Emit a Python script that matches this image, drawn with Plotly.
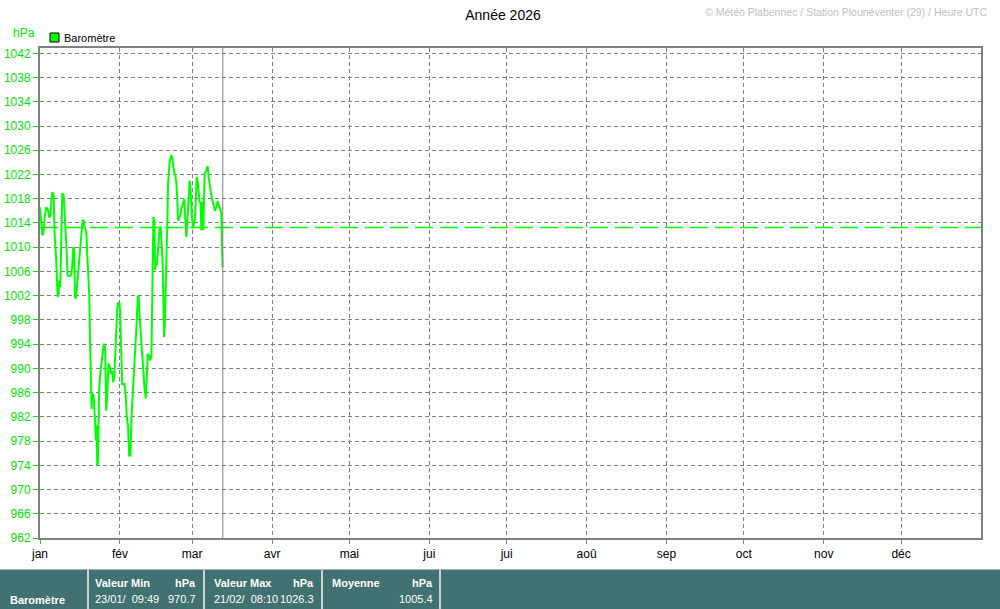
import plotly.graph_objects as go
import pandas as pd

# ---------------- data ----------------
YEAR_START = "2026-01-01"
YEAR_END = "2027-01-01"

# days elapsed since 1 Jan 2026 (fractional)
days = [0.0, 0.26, 0.90, 1.29, 1.81, 2.45, 3.10, 3.61, 4.00, 4.39, 4.77, 5.29, 5.68,
        6.19, 6.58, 6.84, 7.22, 7.48, 7.87, 8.26, 8.64, 9.16, 9.55, 9.93, 10.32,
        10.71, 11.48, 12.13, 12.51, 12.90, 13.29, 13.55, 13.93, 14.32, 14.71, 15.22,
        15.74, 16.13, 16.51, 16.90, 17.29, 17.80, 18.06, 18.32, 18.71, 19.09, 19.35,
        19.74, 20.00, 20.25, 20.77, 21.28, 21.67, 21.93, 22.19, 22.45, 22.70, 22.96,
        23.48, 23.86, 24.38, 24.77, 25.28, 25.67, 26.06, 26.57, 27.09, 27.61, 27.99,
        28.38, 28.77, 29.15, 29.54, 29.93, 30.31, 30.83, 31.09, 31.35, 31.86, 32.77,
        33.28, 33.67, 34.18, 34.57, 35.09, 35.48, 35.86, 36.38, 36.76, 37.28, 37.54,
        37.93, 38.31, 38.57, 38.96, 39.34, 39.73, 40.12, 40.51, 41.02, 41.41, 41.80,
        42.31, 42.70, 43.21, 43.47, 43.73, 43.99, 44.38, 44.63, 44.89, 45.28, 45.67,
        46.05, 46.44, 46.83, 47.21, 47.60, 47.86, 48.12, 48.37, 48.63, 48.89, 49.15,
        49.41, 49.67, 49.92, 50.31, 50.70, 50.96, 51.34, 51.73, 52.12, 52.50, 52.89,
        53.28, 53.53, 53.92, 54.44, 54.95, 55.60, 55.99, 56.37, 56.76, 57.02, 57.28,
        57.66, 58.05, 58.31, 58.57, 58.95, 59.34, 59.73, 60.11, 60.50, 60.76, 61.15,
        61.53, 61.92, 62.31, 62.57, 62.82, 63.08, 63.34, 63.60, 63.86, 64.24, 64.63,
        65.02, 65.40, 65.79, 66.31, 66.82, 67.34, 67.85, 68.37, 68.89, 69.40, 69.92,
        70.30, 70.56, 70.82]

pressure = [1016.6, 1015.0, 1012.0, 1012.2, 1015.0, 1016.6, 1016.1, 1014.9, 1015.3,
            1017.5, 1019.1, 1018.6, 1012.0, 1008.7, 1005.1, 1001.8, 1002.1, 1004.5,
            1003.4, 1012.2, 1018.9, 1018.6, 1016.1, 1012.0, 1009.5, 1005.4, 1005.2,
            1005.4, 1007.0, 1010.0, 1009.8, 1001.8, 1001.5, 1003.4, 1005.6, 1008.4,
            1011.7, 1013.1, 1014.4, 1014.4, 1013.3, 1012.8, 1011.7, 1008.9, 1005.6,
            1002.3, 995.7, 989.6, 983.3, 985.8, 985.5, 982.0, 978.1, 980.6, 974.0,
            974.2, 980.6, 986.9, 989.6, 990.8, 993.0, 994.1, 993.5, 983.0, 985.2,
            990.8, 990.2, 989.1, 989.6, 987.7, 988.3, 992.4, 997.9, 999.6, 1000.9,
            1000.7, 999.3, 994.6, 987.4, 987.4, 985.2, 982.0, 980.3, 975.6, 975.6,
            982.0, 984.7, 988.0, 991.0, 994.1, 997.9, 1002.0, 1001.8, 999.0, 996.3,
            993.2, 990.8, 988.3, 986.9, 985.0, 989.1, 992.4, 992.1, 991.3, 991.9,
            999.0, 1007.0, 1015.0, 1014.4, 1006.2, 1007.8, 1007.0, 1008.9, 1010.6,
            1013.3, 1013.3, 1009.5, 1007.0, 1001.2, 995.2, 996.8, 1000.7, 1002.9,
            1007.0, 1014.4, 1020.5, 1022.7, 1024.1, 1024.9, 1025.2, 1024.6, 1023.3,
            1022.2, 1021.9, 1020.5, 1017.8, 1014.4, 1014.7, 1015.3, 1016.6, 1017.5,
            1018.0, 1014.4, 1011.7, 1013.3, 1015.0, 1018.3, 1021.0, 1020.0, 1017.5,
            1015.0, 1013.1, 1014.2, 1014.7, 1018.6, 1021.6, 1020.8, 1019.4, 1017.5,
            1017.2, 1012.8, 1017.5, 1016.1, 1012.8, 1019.4, 1022.2, 1022.4, 1023.0,
            1023.4, 1021.6, 1020.0, 1018.9, 1017.8, 1016.9, 1016.0, 1016.6, 1017.6,
            1016.9, 1016.4, 1015.8, 1011.1, 1006.7]

month_starts = ["2026-01-01", "2026-02-01", "2026-03-01", "2026-04-01", "2026-05-01",
                "2026-06-01", "2026-07-01", "2026-08-01", "2026-09-01", "2026-10-01",
                "2026-11-01", "2026-12-01"]
month_labels = ["jan", "fév", "mar", "avr", "mai", "jui", "jui", "aoû", "sep", "oct",
                "nov", "déc"]
y_ticks = list(range(962, 1043, 4))
Y_RANGE = [962, 1042.88]

REF_PRESSURE = 1013.25     # standard atmosphere reference line
NOW_DAY = 70.9             # current-time marker

stat_labels = ["Valeur Min", "Valeur Max", "Moyenne"]
stat_dates = ["23/01/  09:49", "21/02/  08:10", ""]
stat_values = ["970.7", "1026.3", "1005.4"]

TITLE = "Année 2026"
CREDIT = "© Météo Plabennec / Station Plounéventer (29) / Heure UTC"
SERIES = "Baromètre"
UNIT = "hPa"

# ---------------- style ----------------
GREEN = "#00ff00"
GREEN_TXT = "#00e800"
GRID = "#808080"
TEAL = "#417171"
FONT = "Liberation Sans"

W, H = 1000, 609
L, R, T, B = 40, 981, 48, 538   # plot area in pixels


def px(x):
    return (x - L) / (R - L)


def py(y):
    return (B - y) / (B - T)


t0 = pd.Timestamp(YEAR_START)
times = t0 + pd.to_timedelta(days, unit="D")
now_t = t0 + pd.to_timedelta(NOW_DAY, unit="D")

fig = go.Figure()
fig.add_trace(go.Scatter(x=[t0, pd.Timestamp(YEAR_END)], y=[REF_PRESSURE, REF_PRESSURE],
                         mode="lines", line=dict(color=GREEN, width=1.5, dash="18px,7px"),
                         hoverinfo="skip", showlegend=False))
fig.add_trace(go.Scatter(x=times, y=pressure, mode="lines", name=SERIES,
                         line=dict(color=GREEN, width=2), showlegend=False))

shapes = []
# current time marker
shapes.append(dict(type="line", xref="x", yref="paper", x0=now_t, x1=now_t, y0=0, y1=1,
                   line=dict(color=GRID, width=1)))
# legend square
shapes.append(dict(type="rect", xref="paper", yref="paper", x0=px(50), x1=px(59),
                   y0=py(42), y1=py(33), fillcolor=GREEN, line=dict(color="black", width=1)))
# footer
shapes.append(dict(type="rect", xref="paper", yref="paper", x0=px(0), x1=px(1000),
                   y0=py(609), y1=py(569.5), fillcolor=TEAL, line=dict(width=0), layer="below"))
for sx in [88, 204, 322, 440]:
    shapes.append(dict(type="line", xref="paper", yref="paper", x0=px(sx), x1=px(sx),
                       y0=py(609), y1=py(570), line=dict(color="#c8d4d4", width=2)))

ann = []
ann.append(dict(text=CREDIT, x=px(989), y=py(12), xref="paper", yref="paper",
                xanchor="right", yanchor="middle", showarrow=False,
                font=dict(family=FONT, size=10.5, color="#c0c0c0")))
ann.append(dict(text=SERIES, x=px(62), y=py(38), xref="paper", yref="paper",
                xanchor="left", yanchor="middle", showarrow=False,
                font=dict(family=FONT, size=11, color="black")))
ann.append(dict(text=UNIT, x=px(11), y=py(33), xref="paper", yref="paper",
                xanchor="left", yanchor="middle", showarrow=False,
                font=dict(family=FONT, size=12, color=GREEN_TXT)))
ann.append(dict(text="<b>" + SERIES + "</b>", x=px(8), y=py(600), xref="paper", yref="paper",
                xanchor="left", yanchor="middle", showarrow=False,
                font=dict(family=FONT, size=11, color="white")))
col_left = [93, 212, 330]
col_right = [198, 316, 435]
for i in range(3):
    ann.append(dict(text="<b>" + stat_labels[i] + "</b>", x=px(col_left[i]), y=py(583),
                    xref="paper", yref="paper", xanchor="left", yanchor="middle",
                    showarrow=False, font=dict(family=FONT, size=11, color="white")))
    ann.append(dict(text="<b>" + UNIT + "</b>", x=px(col_right[i]), y=py(583),
                    xref="paper", yref="paper", xanchor="right", yanchor="middle",
                    showarrow=False, font=dict(family=FONT, size=11, color="white")))
    if stat_dates[i]:
        ann.append(dict(text=stat_dates[i].replace("  ", "&nbsp;&nbsp;"), x=px(col_left[i]),
                        y=py(599), xref="paper", yref="paper", xanchor="left",
                        yanchor="middle", showarrow=False,
                        font=dict(family=FONT, size=11, color="white")))
    ann.append(dict(text=stat_values[i], x=px(col_right[i]), y=py(599), xref="paper",
                    yref="paper", xanchor="right", yanchor="middle", showarrow=False,
                    font=dict(family=FONT, size=11, color="white")))

fig.update_layout(
    width=W, height=H,
    margin=dict(l=L, r=W - R, t=T, b=H - B, pad=0),
    paper_bgcolor="white", plot_bgcolor="white",
    title=dict(text=TITLE, x=0.503, xanchor="center", y=1 - 15 / H, yanchor="middle",
               font=dict(family=FONT, size=14, color="black")),
    showlegend=False,
    shapes=shapes,
    annotations=ann,
    font=dict(family=FONT),
    xaxis=dict(type="date", range=[YEAR_START, YEAR_END], tickvals=month_starts,
               ticktext=month_labels, showgrid=True, gridcolor=GRID, griddash="4px,3px",
               gridwidth=1, showline=True, linecolor=GRID, linewidth=2, mirror=True,
               ticks="outside", ticklen=4, tickcolor=GRID, zeroline=False,
               tickfont=dict(family=FONT, size=12, color="black"), automargin=False),
    yaxis=dict(range=Y_RANGE, tickvals=y_ticks, showgrid=True, gridcolor=GRID,
               griddash="4px,3px", gridwidth=1, showline=True, linecolor=GRID,
               linewidth=2, mirror=True, ticks="outside", ticklen=5, tickcolor=GREEN_TXT,
               zeroline=False, tickfont=dict(family=FONT, size=12, color=GREEN_TXT),
               automargin=False),
)

fig.write_html("out.html", config={"displayModeBar": False},
               post_script="document.body.style.margin='0';document.body.style.overflow='hidden';")
